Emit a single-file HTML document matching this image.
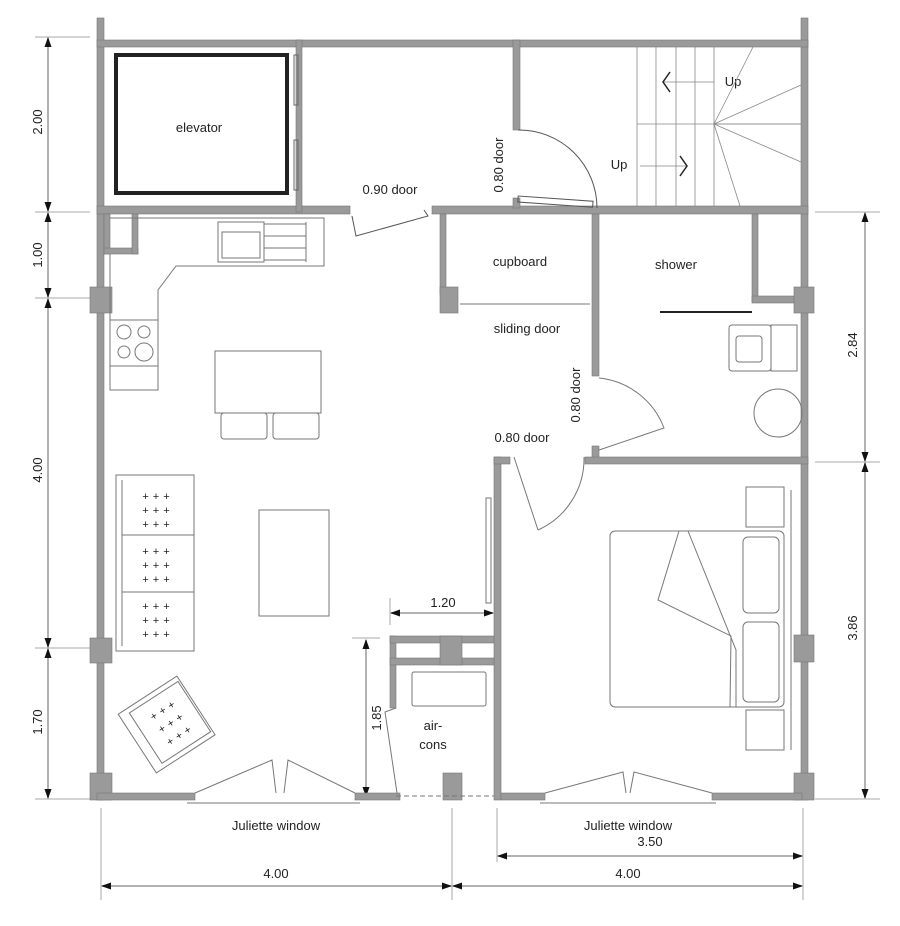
<!DOCTYPE html>
<html><head><meta charset="utf-8"><style>
html,body{margin:0;padding:0;background:#fff}
svg{display:block}
text{font-family:"Liberation Sans",Arial,sans-serif;fill:#222}
</style></head><body>
<svg width="900" height="926" viewBox="0 0 900 926" xmlns="http://www.w3.org/2000/svg">
<defs>
<marker id="a" markerUnits="userSpaceOnUse" markerWidth="10" markerHeight="8" refX="9" refY="4" orient="auto-start-reverse"><path d="M0,0.5 L10,4 L0,7.5z" fill="#111"/></marker>
</defs>
<!-- dimension lines -->
<g stroke="#aaa" stroke-width="1" fill="none">
<line x1="35" y1="37" x2="90" y2="37"/><line x1="35" y1="212" x2="90" y2="212"/><line x1="35" y1="298" x2="90" y2="298"/><line x1="35" y1="648" x2="90" y2="648"/><line x1="35" y1="799" x2="90" y2="799"/>
<line x1="815" y1="212" x2="880" y2="212"/><line x1="815" y1="462" x2="880" y2="462"/><line x1="815" y1="799" x2="880" y2="799"/>
<line x1="101" y1="808" x2="101" y2="900"/><line x1="452" y1="808" x2="452" y2="900"/><line x1="803" y1="808" x2="803" y2="900"/><line x1="497" y1="808" x2="497" y2="862"/>
<line x1="390" y1="598" x2="390" y2="625"/><line x1="352" y1="638" x2="380" y2="638"/>
</g>
<g stroke="#999" stroke-width="1.5" fill="none" marker-start="url(#a)" marker-end="url(#a)">
<line x1="48" y1="38" x2="48" y2="211"/><line x1="48" y1="213" x2="48" y2="297"/><line x1="48" y1="299" x2="48" y2="647"/><line x1="48" y1="649" x2="48" y2="798"/>
<line x1="865" y1="213" x2="865" y2="461"/><line x1="865" y1="463" x2="865" y2="798"/>
<line x1="102" y1="886" x2="451" y2="886"/><line x1="453" y1="886" x2="802" y2="886"/><line x1="498" y1="856" x2="802" y2="856"/>
<line x1="391" y1="613" x2="493" y2="613"/><line x1="366" y1="640" x2="366" y2="796"/>
</g>
<g font-size="13" text-anchor="middle">
<text transform="translate(42,122) rotate(-90)">2.00</text>
<text transform="translate(42,255) rotate(-90)">1.00</text>
<text transform="translate(42,470) rotate(-90)">4.00</text>
<text transform="translate(42,722) rotate(-90)">1.70</text>
<text transform="translate(857,345) rotate(-90)">2.84</text>
<text transform="translate(857,628) rotate(-90)">3.86</text>
<text transform="translate(381,718) rotate(-90)">1.85</text>
<text transform="translate(503,165) rotate(-90)">0.80 door</text>
<text transform="translate(580,395) rotate(-90)">0.80 door</text>
<text x="276" y="830">Juliette window</text>
<text x="628" y="830">Juliette window</text>
<text x="650" y="846">3.50</text>
<text x="276" y="878">4.00</text>
<text x="628" y="878">4.00</text>
<text x="443" y="607">1.20</text>
<text x="199" y="132">elevator</text>
<text x="390" y="194">0.90 door</text>
<text x="520" y="266">cupboard</text>
<text x="676" y="269">shower</text>
<text x="527" y="333">sliding door</text>
<text x="522" y="442">0.80 door</text>
<text x="433" y="730">air-</text>
<text x="433" y="749">cons</text>
<text x="733" y="86">Up</text>
<text x="619" y="169">Up</text>
</g>
<!-- walls -->
<g fill="#9a9a9a" stroke="#777" stroke-width="0.6">
<rect x="97" y="18" width="7" height="782"/>
<rect x="801" y="18" width="7" height="782"/>
<rect x="97" y="40" width="711" height="7"/>
<rect x="97" y="206" width="253" height="8"/>
<rect x="432" y="206" width="376" height="8"/>
<rect x="296" y="40" width="6" height="172"/>
<rect x="513" y="40" width="7" height="90"/>
<rect x="513" y="198" width="7" height="10"/>
<rect x="440" y="214" width="6" height="80"/>
<rect x="440" y="287" width="18" height="26"/>
<rect x="592" y="214" width="7" height="162"/>
<rect x="592" y="446" width="7" height="16"/>
<rect x="752" y="214" width="6" height="88"/>
<rect x="752" y="296" width="56" height="7"/>
<rect x="104" y="214" width="6" height="40"/><rect x="104" y="248" width="34" height="6"/><rect x="132" y="214" width="6" height="40"/>
<rect x="585" y="457" width="223" height="7"/>
<rect x="494" y="457" width="7" height="343"/>
<rect x="494" y="457" width="16" height="7"/>
<rect x="90" y="287" width="22" height="26"/><rect x="90" y="638" width="22" height="25"/><rect x="90" y="773" width="22" height="27"/>
<rect x="794" y="287" width="20" height="26"/><rect x="794" y="635" width="20" height="27"/><rect x="794" y="773" width="20" height="27"/>
<rect x="97" y="793" width="98" height="7"/>
<rect x="355" y="793" width="45" height="7"/>
<rect x="390" y="636" width="6" height="72"/>
<rect x="390" y="636" width="104" height="7"/>
<rect x="390" y="658" width="104" height="7"/>
<rect x="440" y="636" width="22" height="29"/>
<rect x="443" y="773" width="19" height="27"/>
<rect x="501" y="793" width="44" height="7"/>
<rect x="712" y="793" width="90" height="7"/>
</g>
<g fill="none" stroke="#222" stroke-width="1">
<rect x="116" y="55" width="171" height="138" stroke-width="4"/>
<rect x="294" y="55" width="4" height="50" stroke="#666"/><rect x="294" y="140" width="4" height="50" stroke="#666"/>
<path d="M352,216 L356,236 L428,216 L424,210" stroke="#555"/>
<path d="M518,130 A78,78 0 0 1 597,208" stroke="#555"/>
<rect x="518" y="196" width="75" height="6" stroke="#555" transform="rotate(4 518 199)"/>
<g stroke="#888" stroke-width="0.8">
<line x1="637" y1="47" x2="637" y2="206"/><line x1="656" y1="47" x2="656" y2="206"/><line x1="676" y1="47" x2="676" y2="206"/><line x1="695" y1="47" x2="695" y2="206"/><line x1="714" y1="47" x2="714" y2="206"/>
<line x1="637" y1="124" x2="801" y2="124"/>
<line x1="714" y1="124" x2="753" y2="47"/><line x1="714" y1="124" x2="801" y2="85"/><line x1="714" y1="124" x2="801" y2="124"/><line x1="714" y1="124" x2="801" y2="162"/><line x1="714" y1="124" x2="740" y2="206"/>
<line x1="664" y1="82" x2="714" y2="82"/><line x1="640" y1="166" x2="686" y2="166"/>
</g>
<path d="M670,72 L663,82 L670,92" stroke-width="1.5"/><path d="M680,156 L687,166 L680,176" stroke-width="1.5"/>
<g stroke="#777">
<path d="M110,254 L110,390 L158,390 L158,290 L176,266 L324,266 L324,218 L110,218"/>
<rect x="218" y="222" width="46" height="40"/><rect x="222" y="232" width="38" height="26"/>
<line x1="264" y1="224" x2="306" y2="224"/><line x1="264" y1="236" x2="306" y2="236"/><line x1="264" y1="248" x2="306" y2="248"/><line x1="264" y1="260" x2="306" y2="260"/><line x1="306" y1="222" x2="306" y2="262"/>
<rect x="110" y="320" width="48" height="46"/>
<circle cx="124" cy="332" r="7"/><circle cx="144" cy="332" r="6"/><circle cx="124" cy="352" r="6"/><circle cx="144" cy="352" r="9"/>
<rect x="215" y="351" width="106" height="62"/>
<rect x="221" y="413" width="46" height="26" rx="3"/><rect x="273" y="413" width="46" height="26" rx="3"/>
<rect x="259" y="510" width="70" height="106"/>
<rect x="116" y="475" width="78" height="176"/>
<line x1="122" y1="535" x2="194" y2="535"/><line x1="122" y1="592" x2="194" y2="592"/><line x1="122" y1="480" x2="122" y2="646"/>
<g transform="rotate(-33 165 722)"><rect x="130" y="690" width="70" height="70"/><rect x="140" y="695" width="58" height="60"/></g>
<path d="M195,793 L272,760 L276,793 M355,793 L288,760 L284,793"/>
<line x1="187" y1="803" x2="360" y2="803"/>
<path d="M514,457 L538,530 M538,530 A78,78 0 0 0 584,457"/>
<rect x="486" y="498" width="5" height="105"/>
<path d="M545,793 L623,772 L626,793 M712,793 L634,772 L630,793"/>
<line x1="540" y1="803" x2="716" y2="803"/>
<line x1="396" y1="796" x2="494" y2="796" stroke-dasharray="5,3"/>
<path d="M396,708 L385,712 L397,793"/>
<rect x="412" y="672" width="74" height="34" rx="2"/>
<line x1="460" y1="304" x2="590" y2="304"/>
<path d="M599,378 A78,78 0 0 1 664,428 L599,450"/>
<line x1="660" y1="312" x2="752" y2="312" stroke="#222" stroke-width="2"/>
<rect x="729" y="325" width="42" height="46" rx="3"/><rect x="736" y="336" width="26" height="26" rx="3"/><rect x="771" y="325" width="26" height="46"/>
<circle cx="778" cy="413" r="24"/>
<rect x="610" y="531" width="174" height="176" rx="5"/>
<rect x="743" y="537" width="36" height="76" rx="5"/><rect x="743" y="622" width="36" height="80" rx="5"/>
<path d="M679,531 L658,600 L731,636 L730,707 M688,531 L736,650 L736,707"/>
<rect x="746" y="487" width="38" height="40"/><rect x="746" y="710" width="38" height="40"/>
<line x1="791" y1="490" x2="791" y2="750"/>
</g>
</g>
<g fill="#888" font-size="11" text-anchor="middle">
<text x="158" y="500" letter-spacing="4">+++</text><text x="158" y="514" letter-spacing="4">+++</text><text x="158" y="528" letter-spacing="4">+++</text>
<text x="158" y="555" letter-spacing="4">+++</text><text x="158" y="569" letter-spacing="4">+++</text><text x="158" y="583" letter-spacing="4">+++</text>
<text x="158" y="610" letter-spacing="4">+++</text><text x="158" y="624" letter-spacing="4">+++</text><text x="158" y="638" letter-spacing="4">+++</text>
<g transform="rotate(-33 170 722)"><text x="172" y="712" letter-spacing="4">+++</text><text x="172" y="727" letter-spacing="4">+++</text><text x="172" y="742" letter-spacing="4">+++</text></g>
</g>
</svg>
</body></html>
